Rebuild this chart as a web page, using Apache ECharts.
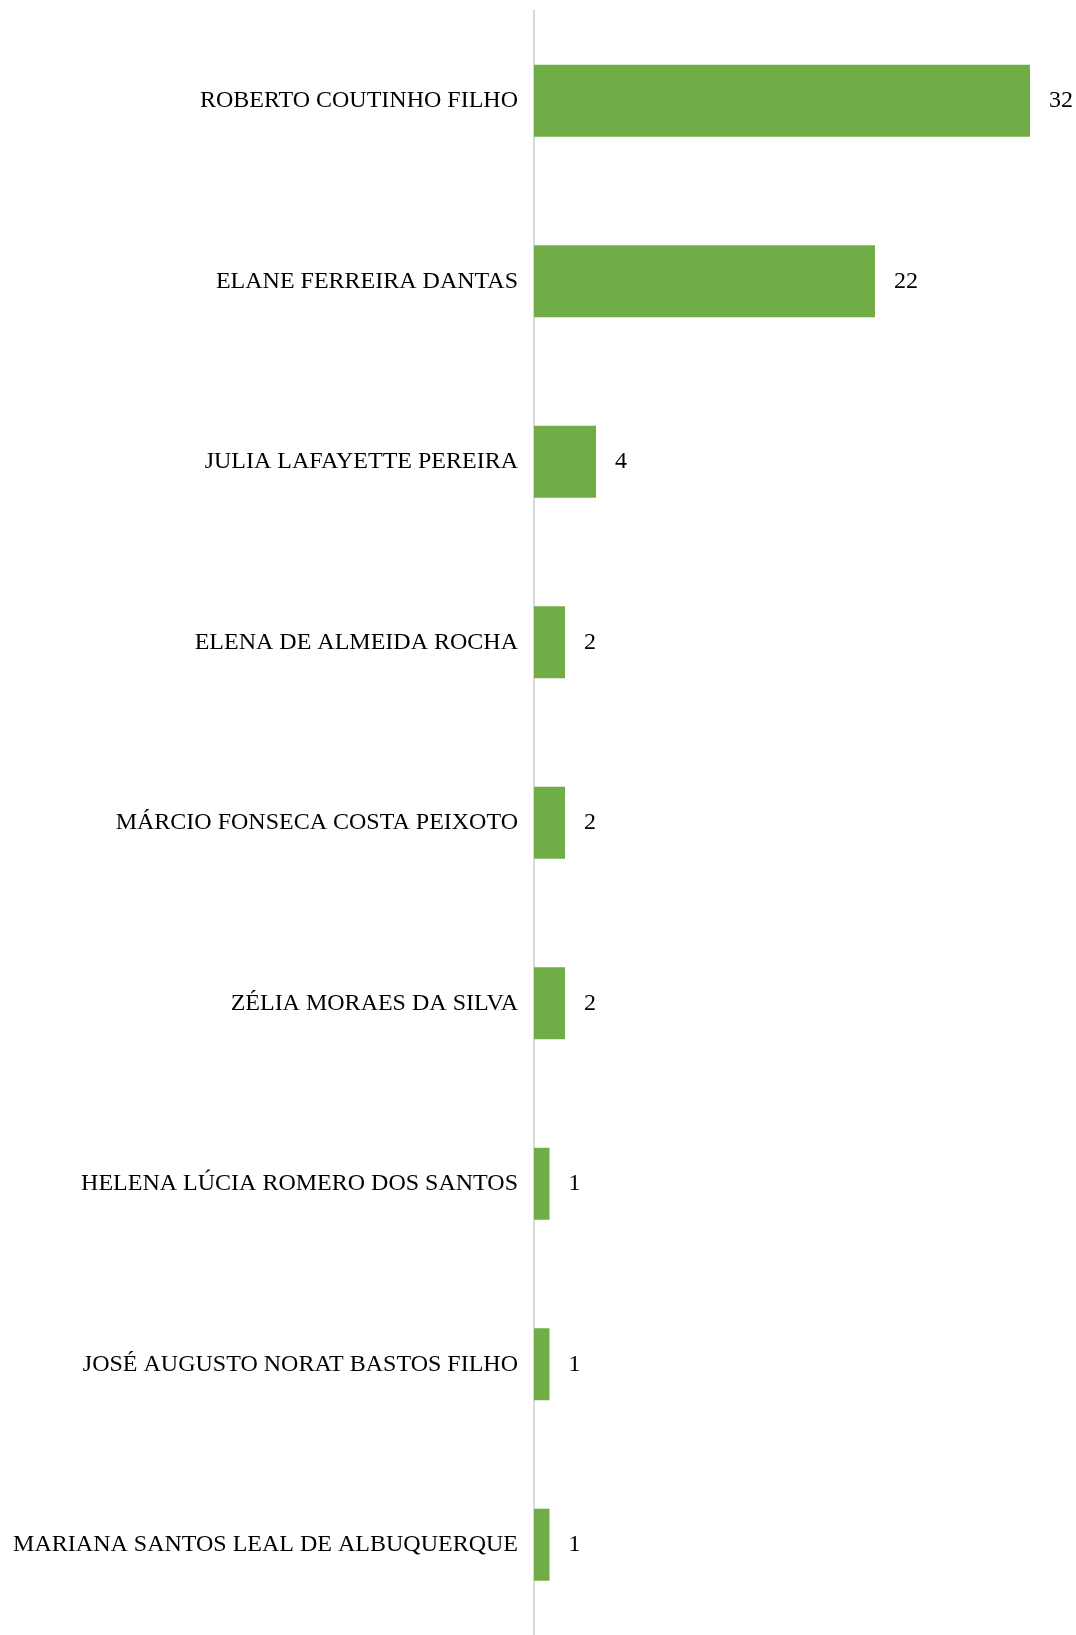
<!DOCTYPE html>
<html>
<head>
<meta charset="utf-8">
<script src="https://cdn.jsdelivr.net/npm/echarts@6/dist/echarts.min.js"></script>
<style>
  html, body { margin: 0; padding: 0; background: #ffffff; }
  #chart { width: 1076px; height: 1635px; }
</style>
</head>
<body>
<div id="chart"></div>
<script>
const categories = [
  "ROBERTO COUTINHO FILHO",
  "ELANE FERREIRA DANTAS",
  "JULIA LAFAYETTE PEREIRA",
  "ELENA DE ALMEIDA ROCHA",
  "MÁRCIO FONSECA COSTA PEIXOTO",
  "ZÉLIA MORAES DA SILVA",
  "HELENA LÚCIA ROMERO DOS SANTOS",
  "JOSÉ AUGUSTO NORAT BASTOS FILHO",
  "MARIANA SANTOS LEAL DE ALBUQUERQUE"
];
const values = [32, 22, 4, 2, 2, 2, 1, 1, 1];

const chart = echarts.init(document.getElementById('chart'));
chart.setOption({
  animation: false,
  backgroundColor: '#ffffff',
  grid: { left: 534, right: 46, top: 10.5, height: 1631, containLabel: false },
  xAxis: {
    type: 'value', min: 0, max: 32, show: false
  },
  yAxis: {
    type: 'category', data: categories, inverse: true,
    axisLine: { show: true, lineStyle: { color: '#d9d9d9', width: 2 } },
    axisTick: { show: false },
    splitLine: { show: false },
    axisLabel: {
      margin: 16, color: '#000000', padding: [4, 0, 0, 0],
      fontFamily: '"Liberation Serif", "DejaVu Serif", serif', fontSize: 24
    }
  },
  series: [{
    type: 'bar', data: values, barCategoryGap: '60%',
    itemStyle: { color: '#70ad47' },
    label: {
      show: true, position: 'right', distance: 19, color: '#000000', padding: [4, 0, 0, 0],
      fontFamily: '"Liberation Serif", "DejaVu Serif", serif', fontSize: 24
    }
  }]
});
</script>
</body>
</html>
